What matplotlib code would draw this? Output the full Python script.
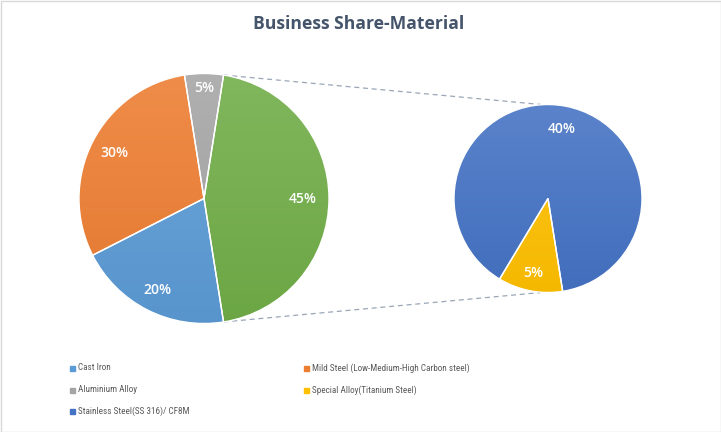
import numpy as np
import matplotlib
matplotlib.use('Agg')
import matplotlib.pyplot as plt
from matplotlib import font_manager
from matplotlib.colors import to_rgb
from matplotlib.patches import Rectangle

# data
categories = ['Cast Iron', 'Mild Steel (Low-Medium-High Carbon steel)', 'Aluminium Alloy',
              'Special Alloy(Titanium Steel)', 'Stainless Steel(SS 316)/ CF8M']
shares = [20, 30, 5, 5, 40]
colors = ['#5B9BD5', '#ED7D31', '#A5A5A5', '#FFC000', '#4472C4']
other_color = '#70AD47'
main_idx = [0, 1, 2]      # slices in the first pie
sub_idx = [4, 3]          # slices split out into the second pie
title = 'Business Share-Material'

names = {f.name for f in font_manager.fontManager.ttflist}
narrow = [n for n in ['Liberation Sans Narrow', 'Roboto Condensed', 'Open Sans Condensed']
          if n in names]
font, leg_size = (narrow[0], 6.6) if narrow else ('Lato', 6.4)
plt.rcParams['font.family'] = [font, 'DejaVu Sans']

W, H = 721, 432
fig = plt.figure(figsize=(W / 100, H / 100), dpi=100)
ax = fig.add_axes([0, 0, 1, 1])


def lighten(c, f):
    c = np.array(to_rgb(c))
    return c + (1 - c) * f


def shade(wedges, cols, cx, cy, r):
    # excel style soft vertical gradient, lighter at the top
    g = np.linspace(0, 1, 256)[:, None, None]
    for w, c in zip(wedges, cols):
        top, bot = lighten(c, 0.12), np.array(to_rgb(c)) * 0.96
        img = top * (1 - g) + bot * g
        im = ax.imshow(img, extent=(cx - r, cx + r, cy - r, cy + r), origin='upper',
                       aspect='auto', zorder=2, interpolation='bilinear')
        im.set_clip_path(w)
        w.set_facecolor('none')
        w.set_zorder(3)


def put_labels(wedges, vals, cx, cy, r, dists, size):
    for w, v, d in zip(wedges, vals, dists):
        a = np.deg2rad((w.theta1 + w.theta2) / 2)
        ax.text(cx + d * r * np.cos(a), cy + d * r * np.sin(a), f'{v:.0f}%',
                color='white', fontsize=size, ha='center', va='center', zorder=4,
                family=['Open Sans', 'DejaVu Sans'], fontweight='semibold')


# first pie
main_vals = [shares[i] for i in main_idx]
other = sum(shares[i] for i in sub_idx)
vals1 = main_vals + [other]
cols1 = [colors[i] for i in main_idx] + [other_color]
cx1, cy1, r1 = 204, 233.5, 125
w1, _ = ax.pie(vals1, colors=cols1, startangle=-other * 1.8, counterclock=False,
               center=(cx1, cy1), radius=r1, frame=True,
               wedgeprops=dict(edgecolor='white', linewidth=1))
shade(w1, cols1, cx1, cy1, r1)
put_labels(w1, vals1, cx1, cy1, r1, [0.82, 0.8, 0.88, 0.79], 10)

# second pie
vals2 = [shares[i] for i in sub_idx]
cols2 = [colors[i] for i in sub_idx]
cx2, cy2, r2 = 548, 233.5, 94
w2, _ = ax.pie(vals2, colors=cols2, startangle=-other * 1.8, counterclock=True,
               center=(cx2, cy2), radius=r2, frame=True,
               wedgeprops=dict(edgecolor='white', linewidth=1))
shade(w2, cols2, cx2, cy2, r2)
put_labels(w2, vals2, cx2, cy2, r2, [0.75, 0.81], 10)

ax.set_xlim(0, W)
ax.set_ylim(0, H)
ax.set_aspect('auto')
ax.axis('off')

# connector lines
ow = w1[-1]
for ang, ty in [(ow.theta2, cy2 + r2), (ow.theta1, cy2 - r2)]:
    a = np.deg2rad(ang)
    ax.plot([cx1 + r1 * np.cos(a), cx2 - 7], [cy1 + r1 * np.sin(a), ty],
            color='#9AA6B6', lw=0.9, dashes=(4, 3), zorder=1)

ax.text(359, H - 24, title, ha='center', va='center', fontsize=12.6, fontweight='bold',
        color='#44546A', family=['Open Sans', 'DejaVu Sans'])

# legend, row by row in two columns
col_x = [72, 306]
row_y = [64, 42, 21]
for k, (name, c) in enumerate(zip(categories, colors)):
    x, y = col_x[k % 2], row_y[k // 2]
    ax.add_patch(Rectangle((x - 2.5, y - 2.5), 5, 5, color=c, zorder=3))
    ax.text(x + 5.5, y, name, ha='left', va='center', fontsize=leg_size, color='#595959')

fig.add_artist(Rectangle((0.5 / W, 0.5 / H), 1 - 1 / W, 1 - 1 / H, transform=fig.transFigure,
                         fill=False, edgecolor='#D9D9D9', lw=1))

fig.savefig('out.png', dpi=100)
